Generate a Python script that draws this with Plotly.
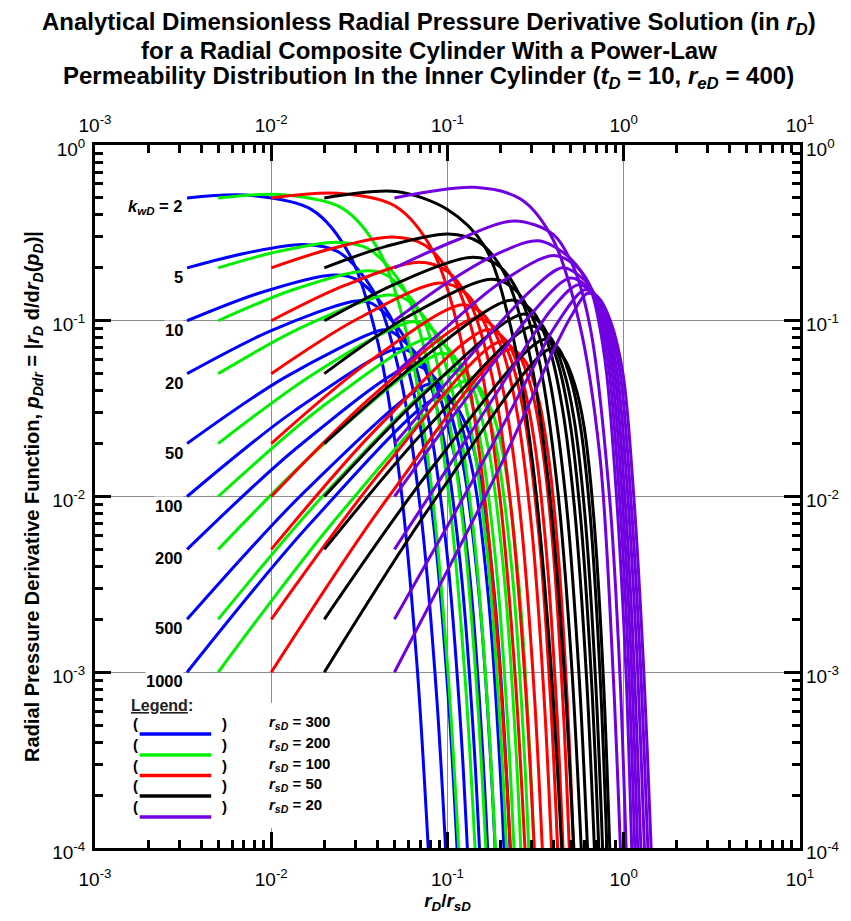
import numpy as np
import plotly.graph_objects as go

# ---------------- data (read / estimated from the reference) ----------------
KWD = [2, 5, 10, 20, 50, 100, 200, 500, 1000]
RSD = [300, 200, 100, 50, 20]

BLUE_X = [
    [0.00333, 0.00722, 0.01695, 0.0278, 0.0403, 0.0535, 0.0672, 0.0803],
    [0.00333, 0.00713, 0.01527, 0.0241, 0.0382, 0.0539, 0.0700, 0.0866, 0.1023],
    [0.00333, 0.00857, 0.0224, 0.0304, 0.0470, 0.0652, 0.0837, 0.1023, 0.1199],
    [0.00333, 0.01007, 0.0304, 0.0373, 0.0566, 0.0773, 0.0980, 0.1188, 0.1380],
    [0.00333, 0.01183, 0.0423, 0.0476, 0.0704, 0.0944, 0.1179, 0.1413, 0.1626],
    [0.00333, 0.01327, 0.0522, 0.0658, 0.0815, 0.1079, 0.1335, 0.1586, 0.1816],
    [0.00333, 0.01455, 0.0629, 0.0781, 0.0930, 0.1218, 0.1493, 0.1763, 0.2006],
    [0.00333, 0.01595, 0.0778, 0.0924, 0.1090, 0.1406, 0.1706, 0.1997, 0.2258],
    [0.00333, 0.0171, 0.0896, 0.1086, 0.1317, 0.1552, 0.1869, 0.2175, 0.2447],
]
BLUE_Y = [
    [0.5, 0.519, 0.429, 0.238, 0.0750, 0.01284, 1.083e-3, 5.5e-5],
    [0.2, 0.2424, 0.2716, 0.2461, 0.1463, 0.0486, 8.65e-3, 7.54e-4, 3.93e-5],
    [0.1, 0.1439, 0.1823, 0.1719, 0.1070, 0.0368, 6.73e-3, 5.99e-4, 3.18e-5],
    [0.05, 0.0882, 0.1297, 0.1253, 0.0814, 0.0289, 5.41e-3, 4.91e-4, 2.64e-5],
    [0.02, 0.0473, 0.0886, 0.0873, 0.0596, 0.0220, 4.23e-3, 3.93e-4, 2.15e-5],
    [0.01, 0.0303, 0.0692, 0.0641, 0.0486, 0.01835, 3.60e-3, 3.40e-4, 1.89e-5],
    [0.005, 0.01957, 0.0557, 0.0514, 0.0405, 0.01567, 3.13e-3, 3.00e-4, 1.68e-5],
    [0.002, 0.01098, 0.0435, 0.0410, 0.0329, 0.01307, 2.67e-3, 2.60e-4, 1.48e-5],
    [0.001, 0.00723, 0.0369, 0.0338, 0.0234, 0.0116, 2.40e-3, 2.37e-4, 1.36e-5],
]

GREEN_X = [
    [0.005, 0.0112, 0.02535, 0.0415, 0.0601, 0.0796, 0.0999, 0.1193],
    [0.005, 0.01069, 0.0234, 0.0357, 0.0564, 0.0794, 0.1029, 0.1271, 0.1498],
    [0.005, 0.01315, 0.0339, 0.0447, 0.0689, 0.0952, 0.1217, 0.1485, 0.1736],
    [0.005, 0.0151, 0.0456, 0.0575, 0.0822, 0.1118, 0.1412, 0.1705, 0.1977],
    [0.005, 0.01774, 0.0626, 0.0784, 0.1009, 0.1346, 0.1675, 0.2000, 0.2297],
    [0.005, 0.01945, 0.0764, 0.0940, 0.1158, 0.1524, 0.1877, 0.2223, 0.2538],
    [0.005, 0.02133, 0.0909, 0.1105, 0.1311, 0.1704, 0.2080, 0.2446, 0.2775],
    [0.005, 0.02339, 0.1108, 0.1355, 0.1647, 0.1945, 0.2348, 0.2736, 0.3083],
    [0.005, 0.02506, 0.1264, 0.1503, 0.1813, 0.2127, 0.2548, 0.2951, 0.3311],
]
GREEN_Y = [
    [0.5, 0.522, 0.436, 0.243, 0.0767, 0.01316, 1.112e-3, 5.67e-5],
    [0.2, 0.2465, 0.280, 0.256, 0.1536, 0.0513, 9.18e-3, 8.03e-4, 4.20e-5],
    [0.1, 0.1496, 0.1922, 0.1826, 0.1150, 0.0399, 7.34e-3, 6.57e-4, 3.50e-5],
    [0.05, 0.0922, 0.1400, 0.1334, 0.0896, 0.0321, 6.06e-3, 5.53e-4, 2.99e-5],
    [0.02, 0.0505, 0.0987, 0.0925, 0.0677, 0.0252, 4.90e-3, 4.58e-4, 2.53e-5],
    [0.01, 0.0324, 0.0790, 0.0739, 0.0565, 0.0216, 4.28e-3, 4.07e-4, 2.27e-5],
    [0.005, 0.02124, 0.0651, 0.0607, 0.0482, 0.01888, 3.81e-3, 3.68e-4, 2.08e-5],
    [0.002, 0.01218, 0.0524, 0.0476, 0.0329, 0.01623, 3.35e-3, 3.29e-4, 1.88e-5],
    [0.001, 0.00817, 0.0455, 0.0420, 0.0294, 0.01472, 3.08e-3, 3.06e-4, 1.77e-5],
]

RED_X = [
    [0.01, 0.02383, 0.0504, 0.0821, 0.1184, 0.1564, 0.1960, 0.2338],
    [0.01, 0.02188, 0.0486, 0.0741, 0.1094, 0.1530, 0.1973, 0.2426, 0.2851],
    [0.01, 0.0263, 0.0690, 0.0995, 0.1313, 0.1800, 0.2287, 0.2777, 0.3232],
    [0.01, 0.0302, 0.0907, 0.1270, 0.1650, 0.2074, 0.2599, 0.3121, 0.3601],
    [0.01, 0.03467, 0.1207, 0.1587, 0.2025, 0.2435, 0.3004, 0.3561, 0.4069],
    [0.01, 0.0380, 0.1442, 0.1847, 0.2270, 0.2705, 0.3302, 0.3882, 0.4406],
    [0.01, 0.0407, 0.1680, 0.2155, 0.2631, 0.3094, 0.3591, 0.4191, 0.4727],
    [0.01, 0.0447, 0.1995, 0.2536, 0.3011, 0.3440, 0.3960, 0.4576, 0.5125],
    [0.01, 0.0468, 0.2232, 0.2759, 0.3252, 0.3694, 0.4225, 0.4853, 0.5410],
]
RED_Y = [
    [0.5, 0.531, 0.4495, 0.2525, 0.0804, 0.01386, 1.176e-3, 6.01e-5],
    [0.2, 0.257, 0.2995, 0.270, 0.1698, 0.0575, 0.01039, 9.16e-4, 4.83e-5],
    [0.1, 0.1593, 0.2150, 0.1913, 0.1333, 0.0470, 8.76e-3, 7.92e-4, 4.25e-5],
    [0.05, 0.1013, 0.1641, 0.1434, 0.0933, 0.0398, 7.63e-3, 7.05e-4, 3.85e-5],
    [0.02, 0.0570, 0.1232, 0.1093, 0.0702, 0.0334, 6.60e-3, 6.25e-4, 3.49e-5],
    [0.01, 0.0378, 0.1033, 0.0917, 0.0619, 0.0300, 6.05e-3, 5.84e-4, 3.30e-5],
    [0.005, 0.02506, 0.0892, 0.0769, 0.0480, 0.02128, 5.64e-3, 5.53e-4, 3.16e-5],
    [0.002, 0.01503, 0.0759, 0.0638, 0.0400, 0.01945, 5.25e-3, 5.23e-4, 3.04e-5],
    [0.001, 0.0101, 0.0687, 0.0589, 0.0374, 0.01843, 5.03e-3, 5.08e-4, 2.98e-5],
]

BLACK_X = [
    [0.02, 0.0511, 0.0999, 0.1618, 0.2324, 0.3058, 0.3822, 0.4550],
    [0.02, 0.0448, 0.1010, 0.1510, 0.2102, 0.2914, 0.3735, 0.4569, 0.5347],
    [0.02, 0.0526, 0.1394, 0.1961, 0.2563, 0.3350, 0.4221, 0.5091, 0.5895],
    [0.02, 0.0590, 0.1782, 0.2426, 0.3117, 0.3770, 0.4679, 0.5578, 0.6397],
    [0.02, 0.0678, 0.2290, 0.3066, 0.3781, 0.4481, 0.5243, 0.6162, 0.6995],
    [0.02, 0.0726, 0.2664, 0.3395, 0.4137, 0.4859, 0.5634, 0.6565, 0.7396],
    [0.02, 0.0778, 0.3028, 0.3845, 0.4563, 0.5214, 0.5998, 0.6930, 0.7762],
    [0.02, 0.0834, 0.3486, 0.4249, 0.4988, 0.5648, 0.6438, 0.7372, 0.8194],
    [0.02, 0.0873, 0.3817, 0.4538, 0.5289, 0.5953, 0.6745, 0.7672, 0.8486],
]
BLACK_Y = [
    [0.5, 0.544, 0.43, 0.2665, 0.0856, 0.01485, 1.268e-3, 6.51e-5],
    [0.2, 0.265, 0.312, 0.28, 0.186, 0.065, 0.0121, 1.09e-3, 5.8e-5],
    [0.1, 0.165, 0.230, 0.205, 0.14, 0.056, 0.0108, 1.0e-3, 5.5e-5],
    [0.05, 0.105, 0.172, 0.150, 0.098, 0.048, 0.0100, 9.6e-4, 5.3e-5],
    [0.02, 0.058, 0.131, 0.112, 0.070, 0.032, 8.8e-3, 9.0e-4, 5.2e-5],
    [0.01, 0.038, 0.109, 0.096, 0.062, 0.030, 8.5e-3, 8.9e-4, 5.2e-5],
    [0.005, 0.025, 0.093, 0.080, 0.052, 0.028, 8.2e-3, 8.8e-4, 5.3e-5],
    [0.002, 0.0150, 0.078, 0.070, 0.047, 0.026, 8.0e-3, 8.8e-4, 5.4e-5],
    [0.001, 0.0100, 0.069, 0.062, 0.043, 0.025, 7.8e-3, 9.0e-4, 5.6e-5],
]

PURPLE_X = [
    [0.05, 0.142, 0.261, 0.393, 0.56, 0.732, 0.87, 1.0],
    [0.05, 0.115, 0.24, 0.398, 0.523, 0.650, 0.83, 0.95, 1.07],
    [0.05, 0.1, 0.2, 0.33, 0.5, 0.65, 0.72, 0.80, 0.91, 1.03, 1.11, 1.14],
    [0.05, 0.1, 0.2, 0.4, 0.55, 0.67, 0.74, 0.83, 0.945, 1.07, 1.155, 1.19],
    [0.05, 0.1, 0.2, 0.3, 0.45, 0.6, 0.68, 0.76, 0.86, 0.98, 1.11, 1.20, 1.24],
    [0.05, 0.1, 0.2, 0.3, 0.5, 0.69, 0.78, 0.89, 1.015, 1.15, 1.25, 1.29],
    [0.05, 0.1, 0.2, 0.3, 0.4, 0.55, 0.70, 0.80, 0.92, 1.055, 1.20, 1.31, 1.35],
    [0.05, 0.1, 0.2, 0.3, 0.4, 0.6, 0.71, 0.82, 0.955, 1.095, 1.25, 1.37, 1.42],
    [0.05, 0.1, 0.2, 0.3, 0.4, 0.5, 0.62, 0.72, 0.84, 0.99, 1.14, 1.30, 1.43, 1.48],
]
PURPLE_Y = [
    [0.5, 0.574, 0.491, 0.296, 0.097, 0.0170, 1.0e-3, 3e-5],
    [0.2, 0.29, 0.37, 0.31, 0.198, 0.088, 0.01, 1e-3, 3e-5],
    [0.1, 0.165, 0.245, 0.285, 0.225, 0.15, 0.1, 0.05, 0.01, 1e-3, 1e-4, 4e-5],
    [0.05, 0.093, 0.165, 0.235, 0.2, 0.145, 0.1, 0.05, 0.01, 1e-3, 1e-4, 4e-5],
    [0.02, 0.045, 0.098, 0.15, 0.2, 0.17, 0.142, 0.1, 0.05, 0.01, 1e-3, 1e-4, 4e-5],
    [0.01, 0.026, 0.065, 0.11, 0.175, 0.14, 0.1, 0.05, 0.01, 1e-3, 1e-4, 4e-5],
    [0.005, 0.0145, 0.042, 0.08, 0.12, 0.16, 0.138, 0.1, 0.05, 0.01, 1e-3, 1e-4, 4e-5],
    [0.002, 0.0068, 0.024, 0.052, 0.09, 0.15, 0.137, 0.1, 0.05, 0.01, 1e-3, 1e-4, 4e-5],
    [0.001, 0.0038, 0.015, 0.036, 0.068, 0.105, 0.143, 0.135, 0.1, 0.05, 0.01, 1e-3, 1e-4, 4e-5],
]

MAJOR_TICKS = [1e-3, 1e-2, 1e-1, 1, 10]
MAJOR_TEXT = ["10<sup>-3</sup>", "10<sup>-2</sup>", "10<sup>-1</sup>", "10<sup>0</sup>", "10<sup>1</sup>"]
Y_MAJOR_TICKS = [1e-4, 1e-3, 1e-2, 1e-1, 1]
Y_MAJOR_TEXT = ["10<sup>-4</sup>", "10<sup>-3</sup>", "10<sup>-2</sup>", "10<sup>-1</sup>", "10<sup>0</sup>"]
X_MINOR = [m * 10.0 ** e for e in range(-3, 1) for m in range(2, 10)]
Y_MINOR = [m * 10.0 ** e for e in range(-4, 0) for m in range(2, 10)]

TITLE_LINES = [
    "<b>Analytical Dimensionless Radial Pressure Derivative Solution (in <i>r</i><sub><i>D</i></sub>)</b>",
    "<b>for a Radial Composite Cylinder With a Power-Law</b>",
    "<b>Permeability Distribution In the Inner Cylinder (<i>t</i><sub><i>D</i></sub> = 10, "
    "<i>r</i><sub><i>eD</i></sub> = 400)</b>",
]

COLORS = ["#0000ff", "#00f000", "#ff0000", "#000000", "#7000e0"]
FONT = "Liberation Sans, Arial, sans-serif"

# ---------------- figure ----------------
fig = go.Figure()
groups = [(BLUE_X, BLUE_Y), (GREEN_X, GREEN_Y), (RED_X, RED_Y),
          (BLACK_X, BLACK_Y), (PURPLE_X, PURPLE_Y)]
for (gx, gy), col, rs in zip(groups, COLORS, RSD):
    for xs, ys, kw in zip(gx, gy, KWD):
        fig.add_trace(go.Scatter(
            x=xs, y=ys, mode="lines",
            line=dict(color=col, width=3, shape="spline", smoothing=0.9),
            name=f"rsD={rs}, kwD={kw}", showlegend=False, hoverinfo="skip"))

# dummy trace to activate top / right label axes
fig.add_trace(go.Scatter(x=[], y=[], xaxis="x2", yaxis="y2", showlegend=False, hoverinfo="skip"))

tickfont = dict(family=FONT, size=19, color="black")
common = dict(type="log", showline=True, linewidth=3, linecolor="black",
              ticks="inside", ticklen=16, tickwidth=3, tickcolor="black",
              mirror="allticks", showgrid=True, gridcolor="#8c8c8c", gridwidth=1,
              zeroline=False, tickfont=tickfont)

fig.update_layout(
    width=851, height=921,
    margin=dict(l=95, r=46, t=145, b=73),
    paper_bgcolor="white", plot_bgcolor="white",
    font=dict(family=FONT, color="black"),
    showlegend=False,
    xaxis=dict(range=[-3, 1], tickvals=MAJOR_TICKS, ticktext=MAJOR_TEXT, ticklabelstandoff=12,
               minor=dict(tickvals=X_MINOR, ticks="inside", ticklen=8, tickwidth=3,
                          tickcolor="black", showgrid=False),
               title=dict(text="<b><i>r</i><sub><i>D</i></sub>/<i>r</i><sub><i>sD</i></sub></b>",
                          font=dict(family=FONT, size=19), standoff=2),
               **common),
    yaxis=dict(range=[-4, 0], tickvals=Y_MAJOR_TICKS, ticktext=Y_MAJOR_TEXT,
               ticklabelstandoff=3, ticklabelshift=4,
               minor=dict(tickvals=Y_MINOR, ticks="inside", ticklen=8, tickwidth=3,
                          tickcolor="black", showgrid=False),
               title=dict(text=("<b>Radial Pressure Derivative Function, <i>p</i><sub><i>Ddr</i></sub> = "
                                "|<i>r</i><sub><i>D</i></sub> d/d<i>r</i><sub><i>D</i></sub>(<i>p</i><sub><i>D</i></sub>)|</b>"),
                          font=dict(family=FONT, size=20), standoff=8),
               **common),
    xaxis2=dict(type="log", range=[-3, 1], overlaying="x", side="top", anchor="y",
                tickvals=MAJOR_TICKS, ticktext=MAJOR_TEXT, ticks="", showgrid=False,
                showline=False, zeroline=False, tickfont=tickfont, ticklabelstandoff=8),
    yaxis2=dict(type="log", range=[-4, 0], overlaying="y", side="right", anchor="x",
                tickvals=Y_MAJOR_TICKS, ticktext=Y_MAJOR_TEXT, ticks="", showgrid=False,
                showline=False, zeroline=False, tickfont=tickfont,
                ticklabelstandoff=5, ticklabelshift=4),
)

# title, three centred lines
for line, py in zip(TITLE_LINES, [23, 50, 77]):
    fig.add_annotation(x=(431 - 95) / 710.0, y=(848 - py) / 703.0, xref="paper", yref="paper",
                       text=line, showarrow=False, xanchor="center", yanchor="middle",
                       font=dict(family=FONT, size=24, color="black"))

# kwD labels next to the starts of the rsD = 300 curves
x_lab = np.log10(1.0 / RSD[0])
for kw in KWD:
    txt = "<b><i>k</i><sub><i>wD</i></sub> = 2</b>" if kw == 2 else f"<b>{kw}</b>"
    fig.add_annotation(x=x_lab, y=np.log10(1.0 / kw), xref="x", yref="y",
                       text=txt, showarrow=False, xanchor="right", yanchor="middle",
                       xshift=-3, yshift=-9, bgcolor="white", borderpad=0,
                       font=dict(family=FONT, size=16.5, color="black"))

# manual legend (paper coordinates)
def px2x(px):
    return (px - 95) / 710.0

def py2y(py):
    return (848 - py) / 703.0

fig.add_shape(type="rect", xref="paper", yref="paper", x0=px2x(116), x1=px2x(368),
              y0=py2y(828), y1=py2y(703), fillcolor="white", line=dict(width=0), layer="above")
fig.add_annotation(x=px2x(129), y=py2y(716), xref="paper", yref="paper", xanchor="left",
                   text="<b><u>Legend</u>:</b>", showarrow=False,
                   font=dict(family=FONT, size=16, color="#222222"))
row_y = [734, 755, 775.5, 796, 817]
for rs, col, ry in zip(RSD, COLORS, row_y):
    fig.add_shape(type="line", xref="paper", yref="paper", x0=px2x(140), x1=px2x(212),
                  y0=py2y(ry), y1=py2y(ry), line=dict(color=col, width=3.5), layer="above")
    fig.add_annotation(x=px2x(131), y=py2y(ry), xref="paper", yref="paper", text="<b>(</b>",
                       showarrow=False, font=dict(family=FONT, size=15, color="black"))
    fig.add_annotation(x=px2x(221), y=py2y(ry), xref="paper", yref="paper", text="<b>)</b>",
                       showarrow=False, font=dict(family=FONT, size=15, color="black"))
    fig.add_annotation(x=px2x(268), y=py2y(ry), xref="paper", yref="paper", xanchor="left",
                       text=f"<b><i>r</i><sub><i>sD</i></sub> = {rs}</b>", showarrow=False,
                       font=dict(family=FONT, size=15, color="black"))

fig.write_html("out.html")
